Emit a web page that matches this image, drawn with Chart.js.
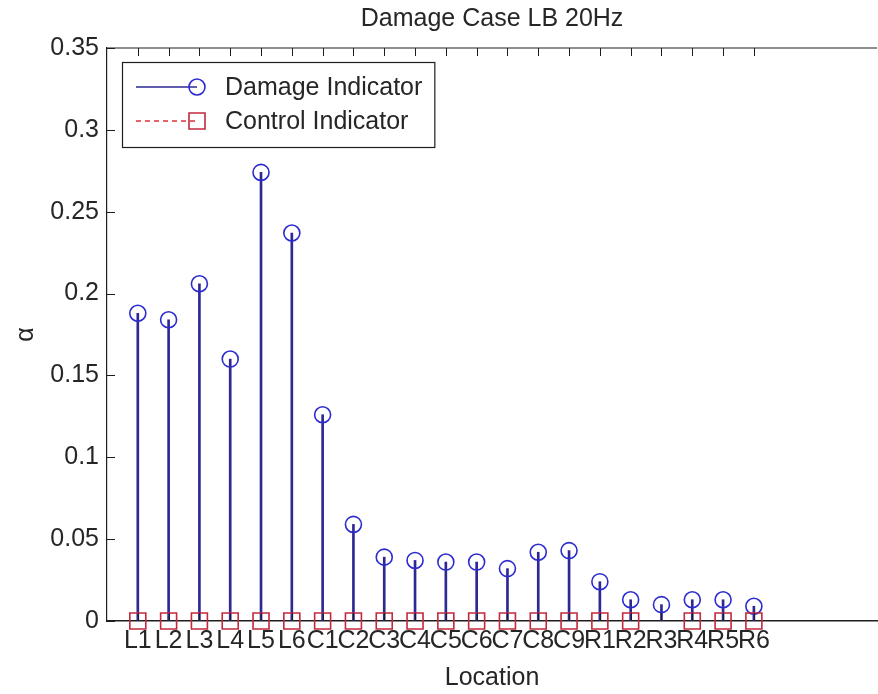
<!DOCTYPE html>
<html>
<head>
<meta charset="utf-8">
<script src="https://cdn.jsdelivr.net/npm/chart.js@4/dist/chart.umd.min.js"></script>
<style>
  html, body { margin: 0; padding: 0; background: #ffffff; overflow: hidden; }
  #wrap { width: 878px; height: 694px; overflow: hidden; }
  canvas { display: block; }
</style>
</head>
<body>
<div id="wrap"><canvas id="chart" width="890" height="694"></canvas></div>
<script>
// Measurement locations along the structure
const locations = ['L1','L2','L3','L4','L5','L6','C1','C2','C3','C4','C5','C6','C7','C8','C9','R1','R2','R3','R4','R5','R6'];

// Damage indicator alpha at each location
const damageIndicator = [0.188, 0.184, 0.206, 0.160, 0.274, 0.237, 0.126, 0.059, 0.039, 0.037, 0.036,
                         0.036, 0.032, 0.042, 0.043, 0.024, 0.013, 0.010, 0.013, 0.013, 0.009];

// Control indicator (undamaged reference); no value at R3
const controlIndicator = [0, 0, 0, 0, 0, 0, 0, 0, 0, 0, 0, 0, 0, 0, 0, 0, 0, null, 0, 0, 0];

// Axis ticks
const yTicks = [0, 0.05, 0.1, 0.15, 0.2, 0.25, 0.3, 0.35];
const xRange = [0, 25];

const FONT = "'Liberation Sans', Arial, Helvetica, sans-serif";
const FSIZE = 25;
const TEXT = '#262626';
const STEM = '#2e2894';
const CIRCLE = '#2b2bcf';
const SQUARE = '#c2283e';

const toPoints = arr => arr.map((v, i) => ({ x: i + 1, y: v }));

// Axis frame, inward tick marks, titles and the legend box
const decorations = {
  id: 'decorations',
  afterDraw(chart) {
    const { ctx, chartArea: a, scales: { x, y } } = chart;
    ctx.save();
    ctx.strokeStyle = '#1e1e1e';
    ctx.lineWidth = 1.2;
    // top border of the axes box
    ctx.beginPath();
    ctx.moveTo(a.left, a.top);
    ctx.lineTo(a.right, a.top);
    ctx.stroke();

    ctx.lineWidth = 1;
    const tl = 8;
    y.ticks.forEach(t => {
      const py = Math.round(y.getPixelForValue(t.value)) + 0.5;
      ctx.beginPath();
      ctx.moveTo(a.left, py); ctx.lineTo(a.left + tl, py);
      ctx.stroke();
    });
    x.ticks.forEach(t => {
      const px = Math.round(x.getPixelForValue(t.value)) + 0.5;
      ctx.beginPath();
      ctx.moveTo(px, a.bottom); ctx.lineTo(px, a.bottom - tl);
      ctx.moveTo(px, a.top); ctx.lineTo(px, a.top + tl);
      ctx.stroke();
    });

    // titles
    const cx = (a.left + a.right) / 2;
    ctx.fillStyle = TEXT;
    ctx.font = `${FSIZE}px ${FONT}`;
    ctx.textAlign = 'center';
    ctx.textBaseline = 'middle';
    ctx.fillText('Damage Case LB 20Hz', cx, 19);
    ctx.fillText('Location', cx, 678);
    ctx.save();
    ctx.translate(26, (a.top + a.bottom) / 2);
    ctx.rotate(-Math.PI / 2);
    ctx.fillText('α', 0, 0);
    ctx.restore();

    // legend
    const items = [chart.data.datasets[1], chart.data.datasets[2]];
    const boxL = a.left + 15, boxT = a.top + 14, rowH = 34;
    const lineL = boxL + 14, lineR = boxL + 75, textX = boxL + 103;
    const tw = Math.max(...items.map(d => ctx.measureText(d.label).width));
    const boxW = textX + tw + 12 - boxL, boxH = rowH * 2 + 17;
    ctx.fillStyle = '#ffffff';
    ctx.fillRect(boxL, boxT, boxW, boxH);
    ctx.strokeStyle = '#1e1e1e';
    ctx.lineWidth = 1.2;
    ctx.strokeRect(boxL + 0.5, boxT + 0.5, boxW, boxH);
    items.forEach((d, i) => {
      const ry = boxT + 25 + i * rowH;
      ctx.strokeStyle = d.legendLine;
      ctx.lineWidth = 1.5;
      ctx.setLineDash(d.legendDash);
      ctx.beginPath();
      ctx.moveTo(lineL, ry); ctx.lineTo(lineR, ry);
      ctx.stroke();
      ctx.setLineDash([]);
      ctx.strokeStyle = d.borderColor;
      ctx.lineWidth = 1.6;
      ctx.beginPath();
      if (d.pointStyle === 'circle') {
        ctx.arc(lineR, ry, 8, 0, Math.PI * 2);
      } else {
        ctx.rect(lineR - 8, ry - 8, 16, 16);
      }
      ctx.stroke();
      ctx.fillStyle = TEXT;
      ctx.textAlign = 'left';
      ctx.textBaseline = 'middle';
      ctx.fillText(d.label, textX, ry + 1);
    });
    ctx.restore();
  }
};

new Chart(document.getElementById('chart'), {
  type: 'bar',
  data: {
    datasets: [
      {
        // stems of the damage indicator
        type: 'bar',
        label: 'stems',
        data: toPoints(damageIndicator),
        backgroundColor: STEM,
        barThickness: 2,
        grouped: false,
        order: 3
      },
      {
        type: 'line',
        label: 'Damage Indicator',
        data: toPoints(damageIndicator),
        showLine: false,
        clip: false,
        pointStyle: 'circle',
        pointRadius: 8,
        pointBorderWidth: 1.6,
        borderColor: CIRCLE,
        pointBorderColor: CIRCLE,
        pointBackgroundColor: 'rgba(0,0,0,0)',
        legendLine: STEM,
        legendDash: [],
        order: 2
      },
      {
        type: 'line',
        label: 'Control Indicator',
        data: toPoints(controlIndicator),
        showLine: false,
        clip: false,
        pointStyle: 'rect',
        pointRadius: 11.3,
        pointBorderWidth: 1.6,
        borderColor: SQUARE,
        pointBorderColor: SQUARE,
        pointBackgroundColor: 'rgba(0,0,0,0)',
        legendLine: '#e0303a',
        legendDash: [5, 4],
        order: 1
      }
    ]
  },
  options: {
    responsive: false,
    animation: false,
    devicePixelRatio: 1,
    layout: { padding: { left: 0, top: 48, right: 8, bottom: 0 } },
    plugins: {
      legend: { display: false },
      title: { display: false },
      tooltip: { enabled: false }
    },
    scales: {
      x: {
        type: 'linear',
        offset: false,
        min: xRange[0],
        max: xRange[1],
        afterBuildTicks: s => { s.ticks = locations.map((_, i) => ({ value: i + 1 })); },
        afterFit: s => { s.height = 73; },
        ticks: {
          autoSkip: false,
          maxRotation: 0,
          minRotation: 0,
          padding: 5,
          color: TEXT,
          font: { family: FONT, size: FSIZE },
          callback: v => locations[v - 1] ?? ''
        },
        grid: { drawOnChartArea: false, drawTicks: false, offset: false },
        border: { display: true, color: '#1e1e1e', width: 1.4 }
      },
      y: {
        type: 'linear',
        min: yTicks[0],
        max: yTicks[yTicks.length - 1],
        afterBuildTicks: s => { s.ticks = yTicks.map(v => ({ value: v })); },
        afterFit: s => { s.width = 107; },
        ticks: {
          padding: 8,
          color: TEXT,
          font: { family: FONT, size: FSIZE },
          callback: v => String(parseFloat(Number(v).toFixed(2)))
        },
        grid: { drawOnChartArea: false, drawTicks: false },
        border: { display: true, color: '#1e1e1e', width: 1.2 }
      }
    }
  },
  plugins: [decorations]
});
</script>
</body>
</html>
